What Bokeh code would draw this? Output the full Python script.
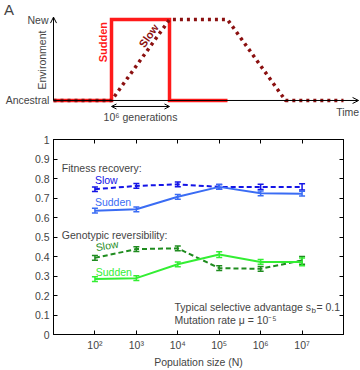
import math
from bokeh.plotting import figure
from bokeh.models import (Range1d, Arrow, OpenHead, Label, ColumnDataSource, Whisker,
                          TeeHead, FixedTicker, LinearAxis, LogAxis)
from bokeh.embed import file_html
from bokeh.resources import INLINE

FONT = "Liberation Sans"

# ---------------- Panel A data ----------------
sudden_t = [0, 1, 1, 2, 2, 3]
sudden_env = [0, 0, 1, 1, 0, 0]
slow_t = [0, 1, 2, 3, 4, 5]
slow_env = [0, 0, 1, 1, 0, 0]
env_labels = ["Ancestral", "New"]
env_levels = [0, 1]

# ---------------- Panel B data ----------------
N = [1e2, 1e3, 1e4, 1e5, 1e6, 1e7]
x_tick_labels = ["10²", "10³", "10⁴", "10⁵", "10⁶", "10⁷"]
y_ticks = [0, 0.1, 0.2, 0.3, 0.4, 0.5, 0.6, 0.7, 0.8, 0.9, 1]
y_tick_labels = ["0", "0.1", "0.2", "0.3", "0.4", "0.5", "0.6", "0.7", "0.8", "0.9", "1"]

fit_slow = [0.745, 0.762, 0.770, 0.757, 0.757, 0.757]
fit_slow_err = [0.012, 0.012, 0.012, 0.012, 0.014, 0.016]
fit_sudden = [0.635, 0.642, 0.706, 0.757, 0.724, 0.722]
fit_sudden_err = [0.012, 0.012, 0.012, 0.012, 0.012, 0.012]
gen_slow = [0.393, 0.438, 0.442, 0.340, 0.337, 0.380]
gen_slow_err = [0.012, 0.012, 0.012, 0.012, 0.012, 0.020]
gen_sudden = [0.284, 0.289, 0.360, 0.410, 0.372, 0.372]
gen_sudden_err = [0.012, 0.012, 0.012, 0.015, 0.012, 0.020]

C_FIT_SLOW = "#1414e6"
C_FIT_SUDDEN = "#3a6cf4"
C_GEN_SLOW = "#1f8c1f"
C_GEN_SUDDEN = "#33ee33"
C_RED = "#ff1a1a"
C_DARKRED = "#8b1010"

def lab(p, **kw):
    kw.setdefault("text_font", FONT)
    kw.setdefault("text_font_size", "10.5px")
    kw.setdefault("text_baseline", "middle")
    p.add_layout(Label(**kw))

# ================= Panel A =================
pa = figure(width=360, height=125, x_range=Range1d(-0.914, 5.293),
            y_range=Range1d(-0.309, 1.235), output_backend="svg",
            toolbar_location=None, x_axis_location=None, y_axis_location=None,
            min_border=0, min_border_left=0, min_border_right=0,
            min_border_top=0, min_border_bottom=0)
pa.outline_line_color = None
pa.xgrid.visible = False
pa.ygrid.visible = False

pa.add_layout(Arrow(end=OpenHead(size=6, line_width=1, line_color="black"),
                    x_start=0, y_start=0, x_end=5.26, y_end=0,
                    line_color="black", line_width=1))
pa.add_layout(Arrow(end=OpenHead(size=6, line_width=1, line_color="black"),
                    x_start=0, y_start=0, x_end=0, y_end=1.03,
                    line_color="black", line_width=1))

pa.line(sudden_t, sudden_env, color=C_RED, line_width=3.5, line_join="miter")
pa.line(slow_t, slow_env, color=C_DARKRED, line_width=3.5, line_dash="3 4")

pa.add_layout(Arrow(start=OpenHead(size=5, line_width=1), end=OpenHead(size=5, line_width=1),
                    x_start=slow_t[1], y_start=-0.074, x_end=slow_t[2], y_end=-0.074,
                    line_width=1, line_color="black"))

lab(pa, x=-0.086, y=env_levels[1], text=env_labels[1], text_align="right")
lab(pa, x=-0.07, y=env_levels[0], text=env_labels[0], text_align="right")
lab(pa, x=-0.19, y=0.5, text="Environment", text_align="center", angle=math.pi / 2)
lab(pa, x=0.86, y=0.72, text="Sudden", text_align="center", angle=math.pi / 2,
    text_color=C_RED, text_font_style="bold", text_font_size="11px")
lab(pa, x=1.64, y=0.80, text="Slow", text_align="center", angle=0.958,
    text_color=C_DARKRED, text_font_style="bold", text_font_size="11px")
lab(pa, x=1.5, y=-0.21, text="10⁶ generations", text_align="center")
lab(pa, x=5.27, y=-0.148, text="Time", text_align="right")
lab(pa, x=-0.767, y=1.13, text="A", text_align="center", text_font_size="15px")

# ================= Panel B =================
pb = figure(width=360, height=245, x_axis_type="log", x_range=Range1d(10, 1e8),
            y_range=Range1d(0, 1), output_backend="svg", toolbar_location=None,
            min_border_left=53, min_border_right=17, min_border_top=14,
            min_border_bottom=34)
pb.xgrid.visible = False
pb.ygrid.visible = False
pb.outline_line_color = "black"
pb.border_fill_color = "#ffffff"
pb.background_fill_color = "#ffffff"

xax = pb.below[0]
yax = pb.left[0]
xax.ticker = FixedTicker(ticks=N, minor_ticks=[])
xax.major_label_overrides = {int(n): s for n, s in zip(N, x_tick_labels)}
yax.ticker = FixedTicker(ticks=y_ticks, minor_ticks=[])
yax.major_label_overrides = {t: s for t, s in zip(y_ticks, y_tick_labels)}
xax.axis_label = "Population size (N)"
xax.axis_label_text_font = FONT
xax.axis_label_text_font_size = "10.5px"
xax.axis_label_text_font_style = "normal"
xax.axis_label_standoff = 2

for ax in (xax, yax):
    ax.major_label_text_font = FONT
    ax.major_label_text_font_size = "10.5px"
    ax.major_tick_in = 4
    ax.major_tick_out = 0
    ax.minor_tick_in = 0
    ax.minor_tick_out = 0
    ax.axis_line_color = "black"
    ax.major_tick_line_color = "black"
    ax.major_label_standoff = 4

top = LogAxis(ticker=FixedTicker(ticks=N, minor_ticks=[]), major_tick_in=4,
              major_tick_out=0, minor_tick_in=0, minor_tick_out=0,
              major_label_overrides={int(n): "" for n in N},
              major_label_text_font_size="4px", major_label_standoff=0)
right = LinearAxis(ticker=FixedTicker(ticks=y_ticks, minor_ticks=[]), major_tick_in=4,
                   major_tick_out=0, minor_tick_in=0, minor_tick_out=0,
                   major_label_overrides={t: "" for t in y_ticks},
                   major_label_text_font_size="4px", major_label_standoff=0)
pb.add_layout(top, "above")
pb.add_layout(right, "right")

def series(vals, errs, color, dash):
    pb.line(N, vals, color=color, line_width=2, line_dash=dash)
    src = ColumnDataSource(dict(x=N, u=[v + e for v, e in zip(vals, errs)],
                                l=[v - e for v, e in zip(vals, errs)]))
    pb.add_layout(Whisker(source=src, base="x", upper="u", lower="l",
                          line_color=color, line_width=1.5,
                          upper_head=TeeHead(size=6, line_color=color, line_width=1.5),
                          lower_head=TeeHead(size=6, line_color=color, line_width=1.5)))

series(fit_slow, fit_slow_err, C_FIT_SLOW, "5 3")
series(fit_sudden, fit_sudden_err, C_FIT_SUDDEN, "solid")
series(gen_slow, gen_slow_err, C_GEN_SLOW, "5 3")
series(gen_sudden, gen_sudden_err, C_GEN_SUDDEN, "solid")

lab(pb, x=10 ** 1.2, y=0.853, text="Fitness recovery:", text_align="left")
lab(pb, x=10 ** 2.0, y=0.79, text="Slow", text_align="left", text_color=C_FIT_SLOW)
lab(pb, x=10 ** 2.0, y=0.677, text="Sudden", text_align="left", text_color=C_FIT_SUDDEN)
lab(pb, x=10 ** 1.2, y=0.509, text="Genotypic reversibility:", text_align="left")
lab(pb, x=10 ** 2.02, y=0.447, text="Slow", text_align="left", text_color=C_GEN_SLOW,
    angle=0.17)
lab(pb, x=10 ** 2.02, y=0.323, text="Sudden", text_align="left", text_color=C_GEN_SUDDEN)

tx = 10 ** 3.92
lab(pb, x=tx, y=0.142, text="Typical selective advantage s", text_align="left")
lab(pb, x=tx, y=0.142, text="b", text_align="left", x_offset=137, y_offset=-4,
    text_font_size="8px")
lab(pb, x=tx, y=0.142, text="= 0.1", text_align="left", x_offset=142)
lab(pb, x=tx, y=0.076, text="Mutation rate μ = 10⁻⁵", text_align="left")

lab(pb, x=10 ** 0.2035, y=0.411, text="Average reversibility", text_align="center",
    angle=math.pi / 2)
lab(pb, x=10 ** 0.0, y=0.99, text="B", text_align="center", text_font_size="15px")

open("out.html", "w").write(file_html([pa, pb], INLINE))
